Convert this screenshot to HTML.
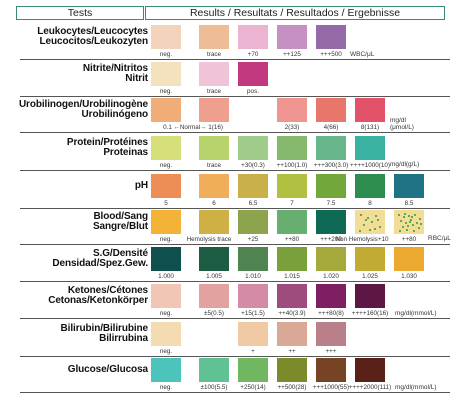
<!DOCTYPE html>
<html><head><meta charset="utf-8">
<style>
body{margin:0;width:475px;height:400px;background:#fff;position:relative;overflow:hidden;font-family:"Liberation Sans",Arial,sans-serif}
.hdr{position:absolute;top:6px;height:12px;border:1.5px solid #3a8a7a;font-size:10.5px;line-height:12px;text-align:center;color:#222}
.lab{position:absolute;right:327px;font-weight:bold;font-size:10px;line-height:10.5px;text-align:right;color:#111;white-space:nowrap;letter-spacing:-0.1px}
.sw{position:absolute;width:30px;height:24px;overflow:hidden}
.vl{position:absolute;font-size:6.3px;color:#333;white-space:nowrap;text-align:center;width:80px;margin-left:-25px}
.sep{position:absolute;left:20px;width:430px;height:1px;background:#555}
.unit{position:absolute;font-size:6.5px;color:#333;white-space:nowrap}
.dot{position:absolute;width:2px;height:2px;background:#2f9a3a;border-radius:1px}
</style></head><body>
<div class="hdr" style="left:16px;width:126px">Tests</div>
<div class="hdr" style="left:145px;width:298px">Results / Resultats / Resultados / Ergebnisse</div>
<script>
const colX=[151,199,238,277,316,355,394];
const rowY=[25,62,98,136,174,210,247,284,322,358];
const tests=[
 {n:"leukocytes",l:["Leukocytes/Leucocytes","Leucocitos/Leukozyten"],c:[0,1,2,3,4],col:["#f3d3bb","#eebd95","#ebb5d2","#c690c3","#946aa8"],v:["neg.","trace","+70","++125","+++500"],u:"WBC/μL",ux:350,uy:51},
 {n:"nitrite",l:["Nitrite/Nitritos","Nitrit"],c:[0,1,2],col:["#f4e2bf","#f0c3d8","#c2397f"],v:["neg.","trace","pos."]},
 {n:"urobilinogen",l:["Urobilinogen/Urobilinogène","Urobilinógeno"],c:[0,1,3,4,5],col:["#f0ad77","#ef9f8e","#ee9590","#e9766b","#e25269"],v:["0.1 ←Normal→ 1(16)","","2(33)","4(66)","8(131)"],u:"mg/dl\n(μmol/L)",ux:390,uy:122},
 {n:"protein",l:["Protein/Protéines","Proteinas"],c:[0,1,2,3,4,5],col:["#d7df7a","#b9d36c","#9fcc8a","#86b96e","#68b78c","#3ab2a2"],v:["neg.","trace","+30(0.3)","++100(1.0)","+++300(3.0)","++++1000(10)"],u:"mg/dl(g/L)",ux:390,uy:161},
 {n:"ph",l:["pH"],c:[0,1,2,3,4,5,6],col:["#ee8e57","#f0ad5a","#c9b04b","#b2c041","#72a83b","#2d8d4e","#1f7384"],v:["5","6","6.5","7","7.5","8","8.5"]},
 {n:"blood",l:["Blood/Sang","Sangre/Blut"],c:[0,1,2,3,4,5,6],col:["#f2b337","#cfb045","#8da34d","#68ae71","#0f6a55","#f1dd96","#f1dd96"],v:["neg.","Hemolysis trace","+25","++80","+++200","Non Hemolysis+10","++80"],u:"RBC/μL",ux:428,uy:235},
 {n:"specific-gravity",l:["S.G/Densité","Densidad/Spez.Gew."],c:[0,1,2,3,4,5,6],col:["#0f4f4d","#1b5c43","#4f8450","#79a03a","#a5a83b","#c2ab34","#eca92f"],v:["1.000","1.005","1.010","1.015","1.020","1.025","1.030"]},
 {n:"ketones",l:["Ketones/Cétones","Cetonas/Ketonkörper"],c:[0,1,2,3,4,5],col:["#f2c6b4","#e2a3a0","#d58aa7","#9e4b7e","#7d1f62","#5c1745"],v:["neg.","±5(0.5)","+15(1.5)","++40(3.9)","+++80(8)","++++160(16)"],u:"mg/dl(mmol/L)",ux:395,uy:310},
 {n:"bilirubin",l:["Bilirubin/Bilirubine","Bilirrubina"],c:[0,2,3,4],col:["#f4dcb2","#f0c9a5","#d9a996","#b97f8b"],v:["neg.","+","++","+++"]},
 {n:"glucose",l:["Glucose/Glucosa"],c:[0,1,2,3,4,5],col:["#4cc4bc","#60c195","#71b762","#7d8a2c","#764424","#5a2119"],v:["neg.","±100(5.5)","+250(14)","++500(28)","+++1000(55)","++++2000(111)"],u:"mg/dl(mmol/L)",ux:395,uy:384}
];
const dotsA=[[5,4],[12,7],[20,5],[8,14],[16,11],[24,16],[4,20],[14,19],[22,9],[10,9],[19,18]];
const dotsB=[[4,4],[9,6],[14,5],[20,4],[25,8],[6,10],[11,12],[16,9],[22,12],[8,16],[13,15],[18,14],[24,17],[5,20],[12,19],[19,20],[15,11],[10,3],[26,13],[17,6]];
tests.forEach((t,ri)=>{
 const y=rowY[ri];
 const lab=document.createElement('div');
 lab.className='lab';
 
 
 lab.innerHTML=t.l.join('<br>');
 lab.style.top=(y+12-t.l.length*5.25)+'px';
 document.body.appendChild(lab);
 t.c.forEach((ci,k)=>{
  const s=document.createElement('div');
  s.className='sw';
  
  
  s.style.left=colX[ci]+'px';s.style.top=y+'px';s.style.background=t.col[k];
  if(t.n==='blood'&&ci>=5){(ci===5?dotsA:dotsB).forEach(d=>{const e=document.createElement('div');e.className='dot';e.style.left=d[0]+'px';e.style.top=d[1]+'px';s.appendChild(e);});}
  document.body.appendChild(s);
  if(!t.v[k]) return;
  const v=document.createElement('div');
  v.className='vl';
  
  
  v.textContent=t.v[k];
  let lx=colX[ci];
  if(t.n==='urobilinogen'&&k===0){lx=colX[0]+27;}
  if(t.n==='blood'&&k===1){lx=colX[1]-5;}
  if(t.n==='blood'&&k===5){lx=colX[5]-8;}
  v.style.left=lx+'px';v.style.top=(y+26)+'px';
  document.body.appendChild(v);
 });
 if(t.u){
  const u=document.createElement('div');
  u.className='unit';
  
  
  u.innerHTML=t.u.replace('\n','<br>');
  u.style.left=t.ux+'px';u.style.top=(t.uy-(t.u.includes('\n')?5:0))+'px';
  document.body.appendChild(u);
 }
 const sp=document.createElement('div');
 sp.className='sep';
 
 
 sp.style.top=(y+34)+'px';
 document.body.appendChild(sp);
});
</script>
</body></html>
